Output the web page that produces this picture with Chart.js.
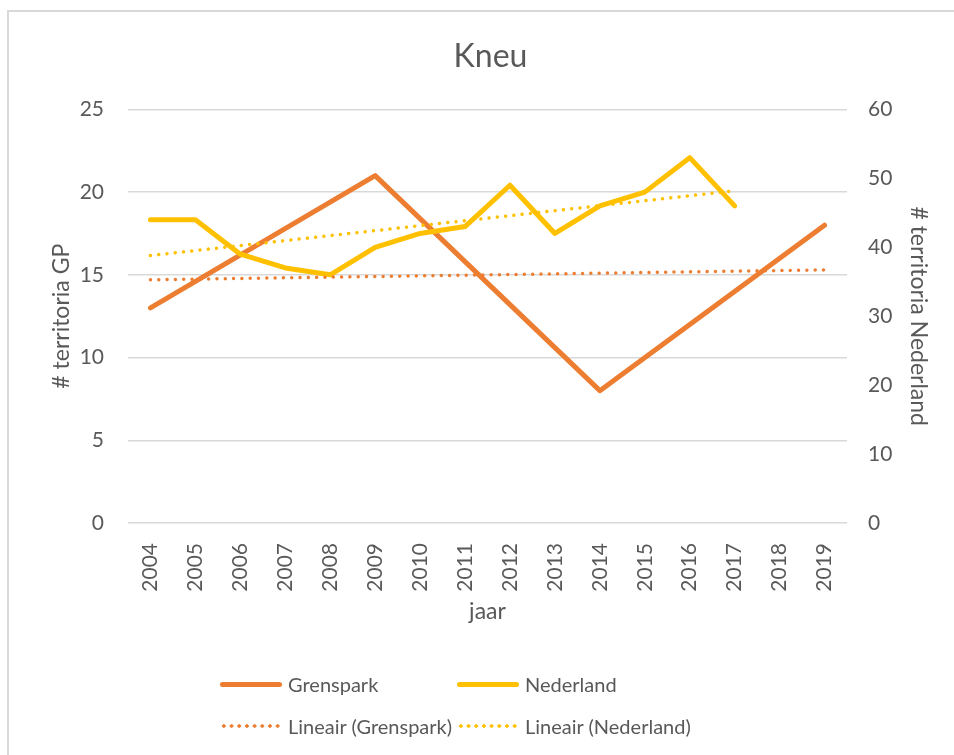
<!DOCTYPE html>
<html>
<head>
<meta charset="utf-8">
<script src="https://cdn.jsdelivr.net/npm/chart.js@4"></script>
<style>
  html, body { margin: 0; padding: 0; background: #fff; overflow: hidden; }
  #wrap { position: relative; width: 954px; height: 755px; }
  #frame { position: absolute; left: 7px; top: 10px; width: 1000px; height: 800px;
           border-left: 2px solid #d9d9d9; border-top: 2px solid #d9d9d9; }
  #myChart { position: absolute; left: 0; top: 0; }
  #legend { position: absolute; left: 0; top: 0; width: 954px; height: 755px; pointer-events: none;
            font-family: Lato, sans-serif; font-size: 20px; color: #595959; }
  .item { position: absolute; display: flex; align-items: center; height: 24px; }
  .sample { width: 62px; height: 5px; margin-right: 6px; }
  .solid { border-radius: 3px; }
</style>
</head>
<body>
<div id="wrap">
  <div id="frame"></div>
  <canvas id="myChart" width="954" height="755"></canvas>
  <div id="legend"></div>
</div>
<script>
const years = ['2004', '2005', '2006', '2007', '2008', '2009', '2010', '2011',
  '2012', '2013', '2014', '2015', '2016', '2017', '2018', '2019'];

// Grenspark only counted every 5 years
const grenspark = [13, null, null, null, null, 21, null, null, null, null, 8, null, null, null, null, 18];
const nederland = [44, 44, 39, 37, 36, 40, 42, 43, 49, 42, 46, 48, 53, 46, null, null];

// trendline end points
const trendGrenspark = [14.7, null, null, null, null, null, null, null, null, null, null, null, null, null, null, 15.3];
const trendNederland = [38.8, null, null, null, null, null, null, null, null, null, null, null, null, 48.2, null, null];

const leftTicks = [0, 5, 10, 15, 20, 25];
const rightTicks = [0, 10, 20, 30, 40, 50, 60];

const orange = '#ED7D31';
const yellow = '#FFC000';
const textColor = '#595959';
const gridColor = '#D9D9D9';
const font = 'Lato';

let ctx = document.getElementById('myChart').getContext('2d');

const data = {
    labels: years,
    datasets: [{
        label: 'Grenspark',
        data: grenspark,
        borderColor: orange,
        borderWidth: 5,
        yAxisID: 'y',
        order: 3,
    }, {
        label: 'Nederland',
        data: nederland,
        borderColor: yellow,
        borderWidth: 5,
        yAxisID: 'y1',
        order: 2,
    }, {
        label: 'Lineair (Grenspark)',
        data: trendGrenspark,
        borderColor: orange,
        borderWidth: 3.5,
        borderDash: [0.01, 8.3],
        yAxisID: 'y',
        order: 1,
        dotted: true,
    }, {
        label: 'Lineair (Nederland)',
        data: trendNederland,
        borderColor: yellow,
        borderWidth: 3.5,
        borderDash: [0.01, 8.3],
        yAxisID: 'y1',
        order: 0,
        dotted: true,
    }]
};

let myChart = new Chart(ctx, {
    type: 'line',
    data: data,
    options: {
        responsive: false,
        animation: false,
        devicePixelRatio: 1,
        spanGaps: true,
        layout: {
            padding: {left: 45, right: 18, top: 37, bottom: 126}
        },
        elements: {
            point: {radius: 0, hoverRadius: 0},
            line: {tension: 0, borderCapStyle: 'round', borderJoinStyle: 'round', fill: false}
        },
        scales: {
            x: {
                offset: true,
                grid: {display: false},
                border: {display: false},
                ticks: {
                    color: textColor,
                    font: {family: font, size: 21},
                    minRotation: 90,
                    maxRotation: 90,
                    padding: 12,
                    autoSkip: false,
                },
                title: {
                    display: true,
                    text: 'jaar',
                    color: textColor,
                    font: {family: font, size: 23},
                    padding: 4,
                },
                afterFit: (scale) => { scale.height = 106; },
            },
            y: {
                position: 'left',
                min: leftTicks[0],
                max: leftTicks[leftTicks.length - 1],
                afterBuildTicks: (scale) => { scale.ticks = leftTicks.map(v => ({value: v})); },
                grid: {color: gridColor, lineWidth: 1.5, drawTicks: false},
                border: {display: false},
                ticks: {color: textColor, font: {family: font, size: 21}, padding: 24},
                title: {
                    display: true,
                    text: '# territoria GP',
                    color: textColor,
                    font: {family: font, size: 23},
                    padding: 3,
                },
                afterFit: (scale) => { scale.width = 83; },
            },
            y1: {
                position: 'right',
                min: rightTicks[0],
                max: rightTicks[rightTicks.length - 1],
                afterBuildTicks: (scale) => { scale.ticks = rightTicks.map(v => ({value: v})); },
                grid: {display: false, drawTicks: false},
                border: {display: false},
                ticks: {color: textColor, font: {family: font, size: 21}, padding: 21},
                title: {
                    display: true,
                    text: '# territoria Nederland',
                    color: textColor,
                    font: {family: font, size: 23},
                    padding: 4,
                },
                afterFit: (scale) => { scale.width = 89; },
            }
        },
        plugins: {
            title: {
                display: true,
                text: 'Kneu',
                color: textColor,
                font: {family: font, size: 32, weight: 'normal'},
                padding: {top: 0, bottom: 34},
            },
            legend: {display: false},
            tooltip: {enabled: false},
        }
    }
});

// legend in two rows, like the original
const legendPos = [
    {left: 220, top: 672},
    {left: 457, top: 672},
    {left: 220, top: 714},
    {left: 457, top: 714},
];
const legendEl = document.getElementById('legend');
myChart.data.datasets.forEach((ds, i) => {
    const item = document.createElement('div');
    item.className = 'item';
    item.style.left = legendPos[i].left + 'px';
    item.style.top = legendPos[i].top + 'px';
    const sample = document.createElement('div');
    if (ds.dotted) {
        sample.className = 'sample';
        sample.style.height = '4px';
        sample.style.background = 'radial-gradient(circle, ' + ds.borderColor + ' 1.5px, transparent 2px) 0 0 / 7.7px 4px repeat-x';
    } else {
        sample.className = 'sample solid';
        sample.style.background = ds.borderColor;
    }
    const label = document.createElement('span');
    label.textContent = ds.label;
    item.appendChild(sample);
    item.appendChild(label);
    legendEl.appendChild(item);
});
</script>
</body>
</html>
